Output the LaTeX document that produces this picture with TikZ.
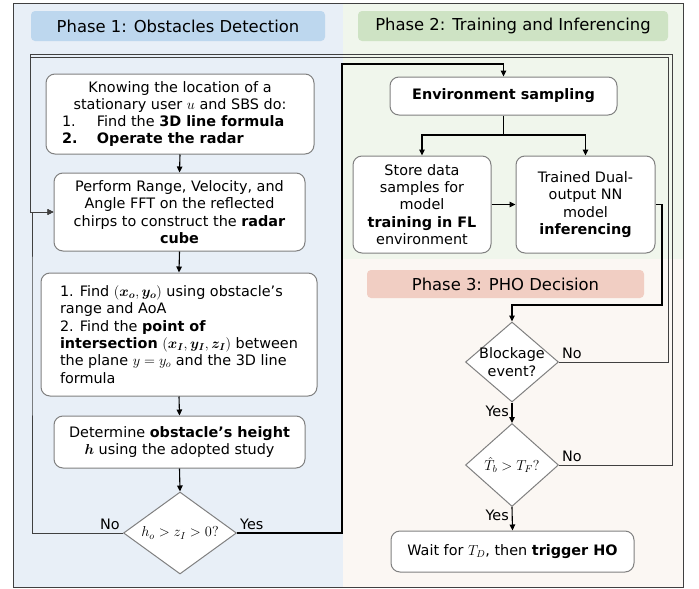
\documentclass[tikz,border=0pt]{standalone}
\usepackage{fontspec}
\setmainfont{DejaVu Sans}
\usepackage{amsmath,bm}
\usetikzlibrary{positioning}
\usetikzlibrary{arrows.meta,shapes.geometric}

\definecolor{phaseoneback}{RGB}{232,239,247}
\definecolor{phaseonehead}{RGB}{189,215,238}
\definecolor{phasetwoback}{RGB}{240,246,236}
\definecolor{phasetwohead}{RGB}{206,227,196}
\definecolor{phasethreeback}{RGB}{251,247,243}
\definecolor{phasethreehead}{RGB}{241,206,195}
\definecolor{boxline}{RGB}{128,128,128}
\definecolor{loopgray}{RGB}{64,64,64}

\newcommand{\flowfont}{\fontsize{14.4}{17.3}\selectfont}
\newcommand{\phasefont}{\fontsize{16.4}{19}\selectfont}

\tikzstyle{procbox}=[rectangle,rounded corners=9pt,draw=boxline,fill=white,line width=1pt,align=center,inner sep=0pt,font=\flowfont]
\tikzstyle{decision}=[diamond,draw=boxline,fill=white,line width=1pt,inner sep=-4pt,align=center,font=\flowfont]
\tikzstyle{phasehead}=[rectangle,rounded corners=4pt,inner sep=0pt,font=\phasefont]
\tikzstyle{edge} = [draw,line width=1.1pt,-{Triangle[length=6pt,width=5.5pt]}]
\tikzstyle{loopedge} = [draw,line width=0.9pt,loopgray,-{Triangle[length=6pt,width=5.5pt]}]
\tikzstyle{answer} = [font=\flowfont,inner sep=3pt]

\begin{document}
\begin{tikzpicture}[x=1pt,y=-1pt]

  \useasboundingbox (0,0) rectangle (699,589);

  % phase areas
  \fill[phaseoneback] (13,3) rectangle (343,587);
  \fill[phasetwoback] (343,3) rectangle (683,259);
  \fill[phasethreeback] (343,259) rectangle (683,587);
  \draw[loopgray,line width=1pt] (13,3) rectangle (683,587);

  \node[phasehead,fill=phaseonehead,minimum width=294pt,minimum height=30pt] (phaseone) at (178,26) {Phase 1: Obstacles Detection};
  \node[phasehead,fill=phasetwohead,minimum width=310pt,minimum height=30pt] (phasetwo) at (513,26) {Phase 2: Training and Inferencing};
  \node[phasehead,fill=phasethreehead,minimum width=277pt,minimum height=28pt] (phasethree) at (505.5,284) {Phase 3: PHO Decision};

  % phase 1
  \node[procbox,minimum width=268pt,minimum height=80pt] (know) at (180,114)
    {Knowing the location of a\\stationary user $u$ and SBS do:\\
     \makebox[250pt][l]{\hspace{7pt}\makebox[35pt][l]{1.}Find the \textbf{3D line formula}}\\
     \makebox[250pt][l]{\hspace{7pt}\makebox[35pt][l]{\textbf{2.}}\textbf{Operate the radar}}};
  \node[procbox,minimum width=251pt,minimum height=78pt] (range) at (179.5,212)
    {Perform Range, Velocity, and\\Angle FFT on the reflected\\chirps to construct the \textbf{radar}\\\textbf{cube}};
  \node[procbox,align=left,minimum width=276pt,minimum height=123pt] (find) at (179,334.5)
    {1. Find $(\bm{x_o},\bm{y_o})$ using obstacle’s\\range and AoA\\2. Find the \textbf{point of}\\
     \textbf{intersection} $(\bm{x_I},\bm{y_I},\bm{z_I})$ between\\the plane $y=y_o$ and the 3D line\\formula};
  \node[procbox,minimum width=251pt,minimum height=52pt] (height) at (179.5,442)
    {Determine \textbf{obstacle’s height}\\$\bm{h}$ using the adopted study};
  \node[decision,minimum width=113pt,minimum height=82pt] (check) at (180,533) {$h_o > z_I > 0?$};

  % phase 2
  \node[procbox,minimum width=227pt,minimum height=38pt] (env) at (503.5,96) {\textbf{Environment sampling}};
  \node[procbox,minimum width=138pt,minimum height=97pt] (store) at (422,204.5)
    {Store data\\samples for\\model\\\textbf{training in FL}\\environment};
  \node[procbox,minimum width=139pt,minimum height=97pt] (infer) at (585.5,204.5)
    {Trained Dual-\\output NN\\model\\\textbf{inferencing}};

  % phase 3
  \node[decision,minimum width=93pt,minimum height=80pt] (block) at (512,362) {Blockage\\event?};
  \node[decision,minimum width=93pt,minimum height=83pt] (tb) at (512,465) {$\hat{T}_b > T_F?$};
  \node[procbox,minimum width=243pt,minimum height=41pt] (wait) at (512.5,551.5) {Wait for $T_D$, then \textbf{trigger HO}};

  \foreach \source/\dest in {know/range, range/find, find/height, height/check, block/tb, tb/wait}
         \draw[edge] (\source.south) -- (\dest.north);

  \coordinate (split) at (503.5,135);
  \draw[line width=1.1pt] (env.south) -- (split);
  \foreach \dest in {store, infer}
         \draw[edge] (split) -| (\dest.north);
  \draw[edge] (store.east) -- (infer.west);

  \coordinate (yesup) at (342,64);
  \draw[edge] (check.east) -| (yesup) -| (env.north);

  \coordinate (inferdown) at (662,305);
  \draw[edge] (infer.east) -| (inferdown) -| (block.north);

  % loops back to the radar cube
  \coordinate (toprone) at (672,54);
  \coordinate (toplone) at (30,54);
  \coordinate (toprtwo) at (668,57.5);
  \coordinate (topltwo) at (30,57.5);
  \coordinate (noleft) at (32,300);
  \draw[loopedge] (tb.east) -| (toprone) -- (toplone) |- (range.west);
  \draw[loopedge] (block.east) -| (toprtwo) -- (topltwo) |- (range.west);
  \draw[loopedge] (check.west) -| (noleft) |- (range.west);

  \node[answer,above left] (checkno) at (check.west) {No};
  \node[answer,above right] (checkyes) at (check.east) {Yes};
  \node[answer,above right] (blockno) at (block.east) {No};
  \node[answer,below left] (blockyes) at (block.south) {Yes};
  \node[answer,above right] (tbno) at (tb.east) {No};
  \node[answer,below left] (tbyes) at (tb.south) {Yes};

\end{tikzpicture}
\end{document}
